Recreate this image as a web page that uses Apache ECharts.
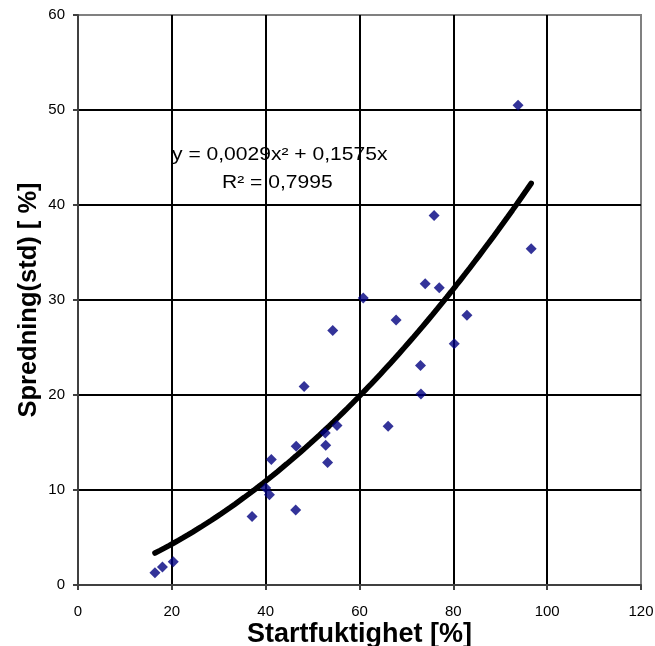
<!DOCTYPE html>
<html>
<head>
<meta charset="utf-8">
<style>
  html, body { margin: 0; padding: 0; background: #fff; }
  #chart { width: 655px; height: 646px; }
</style>
<script src="https://cdn.jsdelivr.net/npm/echarts@6/dist/echarts.min.js"></script>
</head>
<body>
<div id="chart"></div>
<script>
// Start moisture [%] vs spread (std) [%]
const startMoisture = [93.8, 75.9, 96.6, 74.0, 77.0, 60.8, 82.9, 67.8, 54.3, 80.2,
  73.0, 73.1, 48.2, 55.2, 66.1, 52.7, 52.8, 46.5, 41.2, 53.2,
  40.0, 40.8, 46.4, 37.1, 20.3, 18.0, 16.4];
const spread = [50.5, 38.9, 35.4, 31.7, 31.3, 30.2, 28.4, 27.9, 26.8, 25.4,
  23.1, 20.1, 20.9, 16.8, 16.7, 16.0, 14.7, 14.6, 13.2, 12.9,
  10.2, 9.5, 7.9, 7.2, 2.45, 1.9, 1.3];

// Polynomial trend (order 2, through origin): y = a*x^2 + b*x
const trendA = 0.0029;
const trendB = 0.1575;
const trendLabel = 'y = 0,0029x² + 0,1575x';
const r2Label = 'R² = 0,7995';

const xTicks = { min: 0, max: 120, interval: 20 };
const yTicks = { min: 0, max: 60, interval: 10 };

const points = startMoisture.map((x, i) => [x, spread[i]]);
const xLo = Math.min(...startMoisture);
const xHi = Math.max(...startMoisture);
const trend = [];
const steps = 80;
for (let i = 0; i <= steps; i++) {
  const x = xLo + (xHi - xLo) * i / steps;
  trend.push([x, trendA * x * x + trendB * x]);
}

const font = 'Liberation Sans, Arial, sans-serif';
const chart = echarts.init(document.getElementById('chart'));
chart.setOption({
  animation: false,
  backgroundColor: '#ffffff',
  grid: {
    left: 78, right: 14, top: 15, bottom: 61,
    containLabel: false,
    outerBoundsMode: 'none',
    show: true, borderColor: '#808080', borderWidth: 2, backgroundColor: 'transparent'
  },
  xAxis: {
    type: 'value',
    min: xTicks.min, max: xTicks.max, interval: xTicks.interval,
    name: 'Startfuktighet [%]',
    nameLocation: 'middle',
    nameGap: 36,
    nameMoveOverlap: false,
    nameTextStyle: { fontFamily: font, fontSize: 27, fontWeight: 'bold', color: '#000' },
    axisLine: { show: true, onZero: false, lineStyle: { color: '#404040', width: 2 } },
    axisTick: { show: true, inside: false, length: 5, lineStyle: { color: '#404040', width: 2 } },
    axisLabel: { fontFamily: font, fontSize: 15, color: '#000', margin: 19 },
    splitLine: { show: true, showMinLine: false, showMaxLine: false, lineStyle: { color: '#000', width: 2 } }
  },
  yAxis: {
    type: 'value',
    min: yTicks.min, max: yTicks.max, interval: yTicks.interval,
    name: 'Spredning(std) [ %]',
    nameLocation: 'middle',
    nameGap: 36,
    nameMoveOverlap: false,
    nameTextStyle: { fontFamily: font, fontSize: 25.5, fontWeight: 'bold', color: '#000' },
    axisLine: { show: true, onZero: false, lineStyle: { color: '#404040', width: 2 } },
    axisTick: { show: true, inside: false, length: 5, lineStyle: { color: '#404040', width: 2 } },
    axisLabel: { fontFamily: font, fontSize: 15, color: '#000', margin: 13 },
    splitLine: { show: true, showMinLine: false, showMaxLine: false, lineStyle: { color: '#000', width: 2 } }
  },
  series: [
    {
      type: 'line',
      data: trend,
      showSymbol: false,
      smooth: false,
      lineStyle: { color: '#000', width: 5.5, cap: 'round' },
      z: 2
    },
    {
      type: 'scatter',
      data: points,
      symbol: 'diamond',
      symbolSize: 11,
      itemStyle: { color: '#000080' },
      z: 3
    }
  ],
  graphic: [
    {
      type: 'text',
      x: 172, y: 146, scaleX: 1.17,
      style: { text: trendLabel, fontFamily: font, fontSize: 18, fill: '#000' },
      z: 10
    },
    {
      type: 'text',
      x: 222, y: 174, scaleX: 1.17,
      style: { text: r2Label, fontFamily: font, fontSize: 18, fill: '#000' },
      z: 10
    }
  ]
});
</script>
</body>
</html>
